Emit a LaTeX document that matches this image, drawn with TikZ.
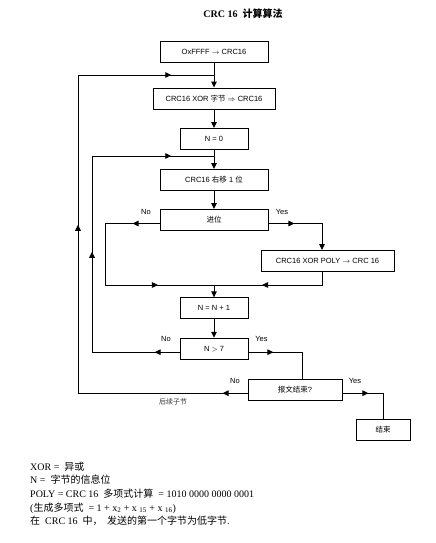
\documentclass[tikz,border=0pt]{standalone}
\usepackage{fontspec}
\setmainfont{Liberation Serif}
\setsansfont{Liberation Sans}
\newfontfamily\cjk{Noto Sans CJK SC}
\usetikzlibrary{positioning,calc,arrows.meta,decorations.markings}
\tikzset{font=\small}
\newcommand{\arrtip}{\arrow{Triangle[length=6pt,width=5.5pt]}}
\tikzset{
	box/.style={draw, line width=0.9pt, inner sep=0pt, minimum height=21pt, font=\sffamily\fontsize{7.5}{9}\selectfont},
	lbl/.style={inner sep=0pt, font=\sffamily\fontsize{7.5}{9}\selectfont},
	note/.style={anchor=base west, inner sep=0pt, font=\fontsize{10}{12}\selectfont},
	flow/.style={line width=0.9pt},
	tipped/.style={flow, -{Triangle[length=6pt,width=5.5pt]}},
	marks/.style={postaction={decorate}, decoration={markings, #1}},
}

\begin{document}
\begin{tikzpicture}[x=1pt, y=-1pt]
	\useasboundingbox (0,0) rectangle (436,543);
	\begin{scope}
		\node[inner sep=0pt, font=\bfseries\fontsize{10}{12}\selectfont] (title) at (243,14) {CRC 16\ \ {\cjk\bfseries 计算算法}};

		\node[box, minimum width=108pt] (init) at (214,51.5) {OxFFFF $\rightarrow$ CRC16};
		\node[box, minimum width=122pt] (xorbyte) at (214,98.5) {CRC16 XOR {\cjk 字节} $\Rightarrow$ CRC16};
		\node[box, minimum width=68pt] (nzero) at (214,139) {N = 0};
		\node[box, minimum width=108pt] (shift) at (214,180) {CRC16 {\cjk 右移} 1 {\cjk 位}};
		\node[box, minimum width=108pt] (carry) at (214,220) {{\cjk 进位}};
		\node[box, minimum width=133pt] (xorpoly) at (327.5,261) {CRC16 XOR POLY $\rightarrow$ CRC 16};
		\node[box, minimum width=68pt] (ninc) at (214,308.3) {N = N + 1};
		\node[box, minimum width=68pt] (ngt) at (214,348.7) {N $>$ 7};
		\node[box, minimum width=94pt] (endq) at (295,389.7) {{\cjk 报文结束}?};
		\node[box, minimum width=54pt] (finish) at (383,430) {{\cjk 结束}};

		\coordinate (j1) at (214,75);
		\coordinate (j2) at (214,156);
		\coordinate (j3) at (214,285);
		\coordinate (ol) at (78,75);
		\coordinate (il) at (92,156);
		\coordinate (cl) at (105,285);

		% labels
		\node[lbl] (nocarry) at (146,211.7) {No};
		\node[lbl] (yescarry) at (282,211.7) {Yes};
		\node[lbl] (nongt) at (166,339) {No};
		\node[lbl] (yesngt) at (261.5,339) {Yes};
		\node[lbl] (noendq) at (235,381) {No};
		\node[lbl] (yesendq) at (355,381) {Yes};
		\node[inner sep=0pt, text=black!80, font=\cjk\fontsize{7}{8}\selectfont] (nextbyte) at (173,401.7) {后续子节};

		% main column
		\draw[tipped] (init) -- (xorbyte);
		\draw[tipped] (xorbyte) -- (nzero);
		\draw[tipped] (nzero) -- (shift);
		\draw[tipped] (shift) -- (carry);
		\draw[tipped] (j3) -- (ninc);
		\draw[tipped] (ninc) -- (ngt);

		% carry branches
		\draw[tipped, marks={mark=at position 26pt with {\arrtip}}] ([yshift=-3.5pt]carry.east) -| ([xshift=-5.5pt]xorpoly.north);
		\draw[flow, marks={mark=at position 27pt with {\arrtip}, mark=at position 169pt with {\arrtip}}] ([yshift=-3.5pt]carry.west) -| (cl) -- (j3);
		\draw[flow, marks={mark=at position 73pt with {\arrtip}}] ([xshift=-5.5pt]xorpoly.south) |- (j3);

		% loops
		\draw[flow, marks={mark=at position 25pt with {\arrtip}, mark=at position 188pt with {\arrtip}, mark=at position 363pt with {\arrtip}}] ([yshift=-3.5pt]ngt.west) -| (il) -- (j2);
		\draw[flow, marks={mark=at position 25pt with {\arrtip}, mark=at position 338pt with {\arrtip}, mark=at position 581pt with {\arrtip}}] ([yshift=-3.5pt]endq.west) -| (ol) -- (j1);
		\draw[flow, marks={mark=at position 25pt with {\arrtip}}] ([yshift=-3.5pt]ngt.east) -| ([xshift=7pt]endq.north);
		\draw[flow, marks={mark=at position 26pt with {\arrtip}}] ([yshift=-3.5pt]endq.east) -| (finish.north);

		% notes
		\node[note] (n1) at (30,470) {XOR =\ \ {\cjk 异或}};
		\node[note] (n2) at (30,483.8) {N =\ \ {\cjk 字节的信息位}};
		\node[note] (n3) at (30,497.4) {POLY = CRC 16\ \ {\cjk 多项式计算}\ \ = 1010 0000 0000 0001};
		\node[note] (n4) at (30,511) {({\cjk 生成多项式}\ \ = 1 + x\textsubscript{2} + x \textsubscript{15} + x \textsubscript{16})};
		\node[note] (n5) at (30,524.6) {{\cjk 在}\ \ CRC 16\ \ {\cjk 中，\ \ 发送的第一个字节为低字节}.};
	\end{scope}
\end{tikzpicture}
\end{document}
